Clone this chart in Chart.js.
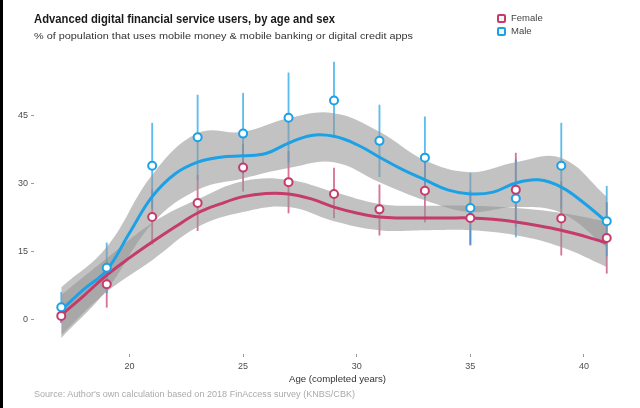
<!DOCTYPE html>
<html>
<head>
<meta charset="utf-8">
<script src="https://cdn.jsdelivr.net/npm/chart.js@4.4.1/dist/chart.umd.min.js"></script>
<style>
  body { margin: 0; background: #fff; font-family: "Liberation Sans", Arial, sans-serif; }
  #wrap { position: relative; width: 640px; height: 408px; overflow: hidden; background: #fff; }
  #chart { position: absolute; left: 0; top: 0; }
  #edge { position: absolute; left: 0; top: 0; width: 3px; height: 408px; background: #000; }
  .txt { position: absolute; white-space: nowrap; transform-origin: 0 50%; line-height: 1; }
  .key { position: absolute; width: 5px; height: 5px; border: 2px solid; border-radius: 2px; background: #f4f4f4; }
</style>
</head>
<body>
<div id="wrap">
  <canvas id="chart" width="640" height="408"></canvas>
  <div id="edge"></div>
  <div class="txt" id="title" style="left:34px;top:12px;font-size:13px;font-weight:bold;color:#1a1a1a">Advanced digital financial service users, by age and sex</div>
  <div class="txt" id="subtitle" style="left:34px;top:31px;font-size:9.5px;color:#333">% of population that uses mobile money &amp; mobile banking or digital credit apps</div>
  <div class="key" style="left:497px;top:14px;border-color:#c43b6c"></div>
  <div class="txt" style="left:511px;top:13px;font-size:9.5px;color:#444">Female</div>
  <div class="key" style="left:497px;top:27px;border-color:#1ba1e6"></div>
  <div class="txt" style="left:511px;top:26px;font-size:9.5px;color:#444">Male</div>
  <div class="txt" id="xtitle" style="left:289px;top:375px;font-size:9px;color:#333">Age (completed years)</div>
  <div class="txt" id="source" style="left:34px;top:390px;font-size:8.5px;color:#aaa">Source: Author's own calculation based on 2018 FinAccess survey (KNBS/CBK)</div>
</div>
<script>
// survey points (odd ages)
const ages = [17, 19, 21, 23, 25, 27, 29, 31, 33, 35, 37, 39, 41];
const femaleRate = [0.7, 7.7, 22.5, 25.6, 33.4, 30.2, 27.6, 24.2, 28.3, 22.3, 28.5, 22.2, 17.9];
const femaleLow = [-0.8, 2.6, 16.5, 19.5, 28.2, 23.4, 22.3, 18.5, 21.4, 16.3, 20.4, 14.1, 10.1];
const femaleHigh = [2.2, 12.8, 28.5, 31.7, 38.6, 37.0, 33.3, 29.6, 35.2, 28.3, 36.6, 30.3, 25.7];
const maleRate = [2.6, 11.3, 33.8, 40.1, 40.9, 44.4, 48.2, 39.3, 35.6, 24.5, 26.6, 33.8, 21.6];
const maleLow = [-0.7, 5.8, 24.4, 30.8, 32.0, 34.5, 40.0, 31.4, 26.6, 16.5, 18.1, 24.4, 13.9];
const maleHigh = [5.9, 16.8, 43.2, 49.4, 49.8, 54.3, 56.7, 47.2, 44.6, 32.2, 35.1, 43.2, 29.3];

// smoothed trend (every age)
const smoothAges = [17, 18, 19, 20, 21, 22, 23, 24, 25, 26, 27, 28, 29, 30, 31, 32, 33, 34, 35, 36, 37, 38, 39, 40, 41];
const femaleSmooth = [0.9, 5.2, 9.7, 13.5, 17.0, 20.3, 23.4, 25.4, 27.0, 27.7, 27.6, 26.5, 24.7, 23.4, 22.5, 22.3, 22.3, 22.3, 22.3, 22.0, 21.4, 20.6, 19.6, 18.3, 16.8];
const maleSmooth = [2.0, 6.6, 10.8, 19.0, 27.0, 32.0, 34.6, 35.7, 36.0, 36.5, 38.8, 40.5, 40.3, 38.5, 35.7, 33.0, 30.7, 28.5, 27.6, 28.0, 30.0, 30.7, 29.1, 25.6, 21.4];

// confidence band of the trend (odd ages)
const femaleBandLow = [-3.5, 6.0, 13.0, 20.3, 23.6, 24.7, 21.6, 19.6, 19.6, 19.6, 18.5, 15.9, 11.5];
const femaleBandHigh = [5.3, 13.4, 21.2, 26.4, 30.4, 30.7, 28.0, 25.4, 25.0, 25.0, 24.5, 23.4, 21.5];
const maleBandLow = [-4.2, 6.4, 21.0, 28.5, 31.0, 33.3, 34.6, 30.2, 26.2, 23.6, 24.7, 23.4, 15.8];
const maleBandHigh = [7.0, 15.9, 31.8, 41.0, 41.3, 44.3, 45.4, 41.3, 35.0, 32.4, 34.6, 35.5, 27.0];

const xTicks = [20, 25, 30, 35, 40];
const yTicks = [0, 15, 30, 45];

const PINK = "#c43b6c";
const BLUE = "#1ba1e6";
const BAND = "rgba(150, 150, 150, 0.58)";

const pts = (xs, ys) => xs.map((x, i) => ({ x: x, y: ys[i] }));
const bars = (lo, hi) => ages.map((x, i) => ({ x: x, y: [lo[i], hi[i]] }));

function band(xs, ys, fill) {
  return {
    type: "line",
    data: pts(xs, ys),
    borderWidth: 0,
    pointRadius: 0,
    tension: 0.4,
    fill: fill,
    backgroundColor: BAND,
    order: 3,
  };
}

const ctx = document.getElementById("chart").getContext("2d");
new Chart(ctx, {
  type: "line",
  data: {
    datasets: [
      { type: "bar", data: bars(maleLow, maleHigh), backgroundColor: "rgba(27,161,230,0.7)", barThickness: 1.2, grouped: false, order: 5 },
      { type: "bar", data: bars(femaleLow, femaleHigh), backgroundColor: "rgba(196,59,108,0.7)", barThickness: 1.2, grouped: false, order: 5 },
      band(ages, maleBandHigh, false),
      band(ages, maleBandLow, "-1"),
      band(ages, femaleBandHigh, false),
      band(ages, femaleBandLow, "-1"),
      { data: pts(smoothAges, femaleSmooth), borderColor: PINK, borderWidth: 3, pointRadius: 0, tension: 0.4, fill: false, order: 2 },
      { data: pts(smoothAges, maleSmooth), borderColor: BLUE, borderWidth: 3, pointRadius: 0, tension: 0.4, fill: false, order: 2 },
      { data: pts(ages, femaleRate), showLine: false, pointRadius: 4, pointBorderWidth: 2, pointBackgroundColor: "#fff", pointBorderColor: PINK, order: 1 },
      { data: pts(ages, maleRate), showLine: false, pointRadius: 4, pointBorderWidth: 2, pointBackgroundColor: "#fff", pointBorderColor: BLUE, order: 1 },
    ],
  },
  options: {
    responsive: false,
    animation: false,
    layout: { padding: { top: 47, right: 0, bottom: 0, left: 0 } },
    plugins: { legend: { display: false }, tooltip: { enabled: false } },
    scales: {
      x: {
        type: "linear",
        min: 15.8,
        max: 42.2,
        offset: false,
        afterBuildTicks: (s) => { s.ticks = xTicks.map((v) => ({ value: v })); },
        afterFit: (s) => { s.height = 54; },
        grid: { display: true, drawOnChartArea: false, offset: false, tickLength: 3, color: "#999" },
        border: { display: false },
        ticks: { padding: 4, maxRotation: 0, color: "#4d4d4d", font: { size: 9, family: "Liberation Sans" } },
      },
      y: {
        min: -7.7,
        max: 60,
        afterBuildTicks: (s) => { s.ticks = yTicks.map((v) => ({ value: v })); },
        afterFit: (s) => { s.width = 34; },
        grid: { display: true, drawOnChartArea: false, tickLength: 3, color: "#999" },
        border: { display: false },
        ticks: { padding: 3, color: "#4d4d4d", font: { size: 9, family: "Liberation Sans" } },
      },
    },
  },
});

// squeeze text to the widths seen in the picture
function fit(id, width) {
  const el = document.getElementById(id);
  const w = el.getBoundingClientRect().width;
  el.style.transform = "scaleX(" + width / w + ")";
}
fit("title", 301);
fit("subtitle", 379);
fit("source", 321);
fit("xtitle", 97);
</script>
</body>
</html>
